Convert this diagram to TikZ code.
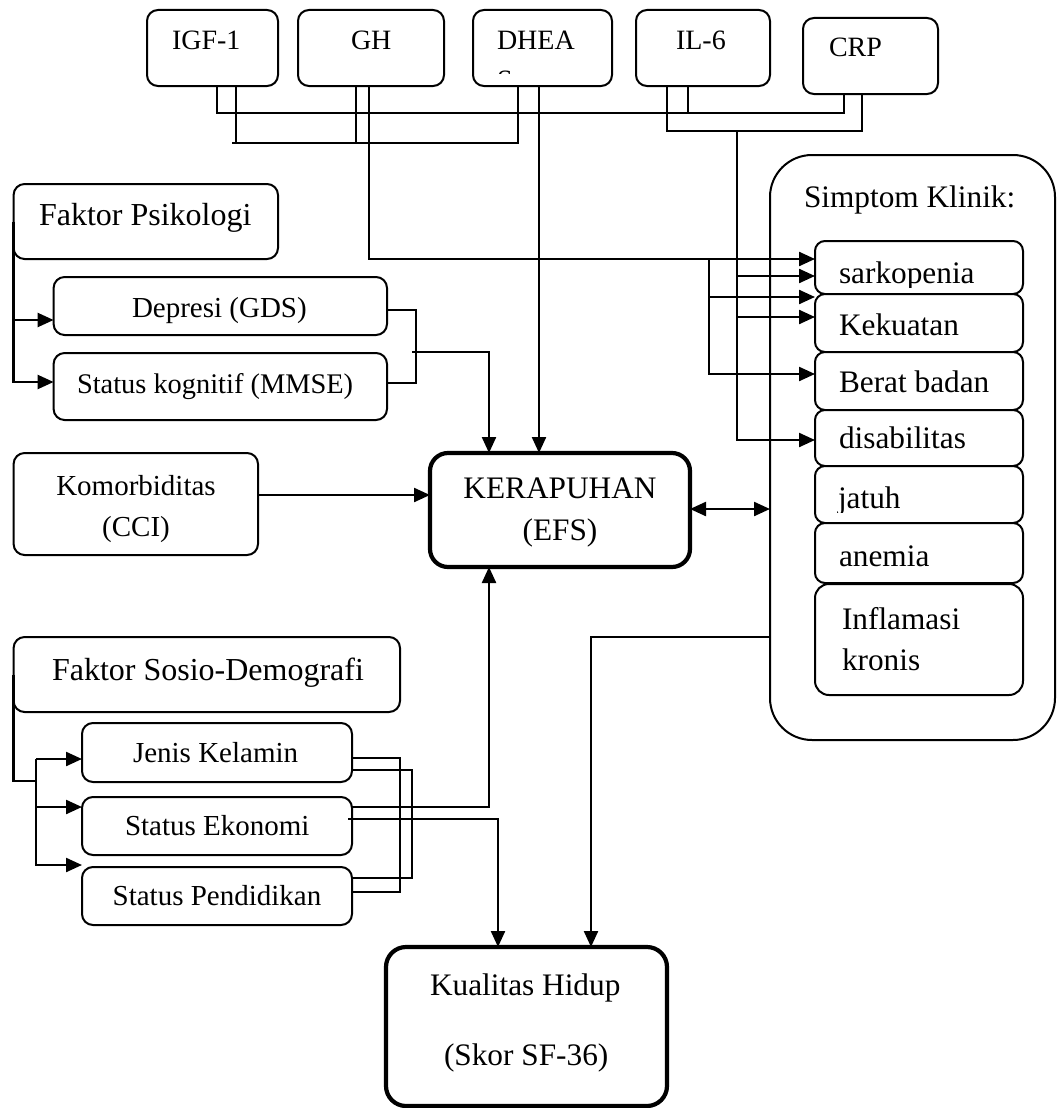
\documentclass[tikz,border=0pt]{standalone}
\usepackage{fontspec}
\setmainfont{Liberation Serif}
\usetikzlibrary{arrows.meta}
\tikzset{
  box/.style={draw, line width=2pt, rounded corners=11pt, fill=white, inner sep=0pt, outer sep=0pt, anchor=north west},
  mainbox/.style={box, line width=4.2pt, rounded corners=18pt},
  bigsk/.style={box, line width=2pt, rounded corners=42pt},
  tx/.style={inner sep=0pt, outer sep=0pt, anchor=base west},
  tc/.style={inner sep=0pt, outer sep=0pt, anchor=base},
  fbig/.style={font=\fontsize{31.3pt}{36pt}\selectfont},
  ffak/.style={font=\fontsize{32pt}{36pt}\selectfont},
  fsmall/.style={font=\fontsize{29pt}{34pt}\selectfont},
  ftop/.style={font=\fontsize{28pt}{32pt}\selectfont},
  conn/.style={line width=2.3pt},
  arr/.style={conn, -{Triangle[length=16pt,width=14pt]}},
  darr/.style={conn, {Triangle[length=16pt,width=14pt]}-{Triangle[length=16pt,width=14pt]}}
}
\begin{document}
\begin{tikzpicture}[x=1pt,y=-1pt]
\fill[white] (0,0) rectangle (1057,1108);
\useasboundingbox (0,0) rectangle (1057,1108);

% top boxes
\node[box, minimum width=131pt, minimum height=76pt] (igf) at (147,10) {};
\node[box, minimum width=146pt, minimum height=76pt] (gh) at (298,10) {};
\node[box, minimum width=139pt, minimum height=76pt] (dhea) at (473,10) {};
\node[box, minimum width=134pt, minimum height=76pt] (il6) at (636,10) {};
\node[box, minimum width=135pt, minimum height=76pt] (crp) at (803,18) {};
\node[tx, ftop] (tigf) at (172,50) {IGF-1};
\node[tx, ftop] (tgh) at (351,50) {GH};
\node[tx, ftop] (tdhea) at (497,50) {DHEA};
\begin{scope}
\clip (480,60) rectangle (600,74);
\node[tx, ftop] (tdheas) at (497,89) {S};
\end{scope}
\node[tx, ftop] (til6) at (676,50) {IL-6};
\node[tx, ftop] (tcrp) at (829,57) {CRP};

% left boxes
\node[box, minimum width=264.4pt, minimum height=75pt] (fp) at (13.6,184) {};
\node[tx, ffak] (tfp) at (39,225) {Faktor Psikologi};
\node[box, minimum width=333.4pt, minimum height=58pt] (dep) at (53.6,277) {};
\node[tx, fsmall] (tdep) at (132,317) {Depresi (GDS)};
\node[box, minimum width=333.4pt, minimum height=67pt] (kog) at (53.6,353) {};
\node[tx, font=\fontsize{28.4pt}{34pt}\selectfont] (tkog) at (77,393) {Status kognitif (MMSE)};
\node[box, minimum width=244.4pt, minimum height=102pt] (kom) at (13.6,453) {};
\node[tc, fsmall] (tkom1) at (136,495) {Komorbiditas};
\node[tc, fsmall] (tkom2) at (136,536) {(CCI)};

\node[mainbox, minimum width=260pt, minimum height=114pt] (ker) at (430,453) {};
\node[tc, fbig] (tker1) at (560,498) {KERAPUHAN};
\node[tc, fbig] (tker2) at (560,540) {(EFS)};

\node[box, minimum width=386.4pt, minimum height=75pt] (fsd) at (13.6,637) {};
\node[tx, ffak] (tfsd) at (52,680) {Faktor Sosio-Demografi};
\node[box, minimum width=270pt, minimum height=59pt] (jk) at (82,723) {};
\node[tx, fsmall] (tjk) at (133,762) {Jenis Kelamin};
\node[box, minimum width=270pt, minimum height=58pt] (se) at (82,797) {};
\node[tx, fsmall] (tse) at (125,835) {Status Ekonomi};
\node[box, minimum width=270pt, minimum height=58pt] (sp) at (82,867) {};
\node[tc, fsmall] (tsp) at (217,905) {Status Pendidikan};

\node[mainbox, rounded corners=20pt, minimum width=281pt, minimum height=159pt] (kh) at (386,947) {};
\node[tx, fbig] (tkh1) at (430,995) {Kualitas Hidup};
\node[tx, fbig] (tkh2) at (444,1065) {(Skor SF-36)};

% simptom klinik
\node[bigsk, minimum width=285pt, minimum height=585pt] (sk) at (770,155) {};
\node[tx, fbig] (tsk) at (804,207) {Simptom Klinik:};
\node[box, rounded corners=10pt, minimum width=208pt, minimum height=53pt] (sarko) at (815,241) {};
\begin{scope}
\clip (816,242) rectangle (1022,287);
\node[tx, fbig] (tsarko) at (839,283) {sarkopenia};
\end{scope}
\node[box, rounded corners=10pt, minimum width=208pt, minimum height=58pt] (keku) at (815,294) {};
\node[tx, fbig] (tkeku) at (839,335) {Kekuatan};
\node[box, rounded corners=10pt, minimum width=208pt, minimum height=58pt] (berat) at (815,352) {};
\node[tx, fbig] (tberat) at (839,392) {Berat badan};
\node[box, rounded corners=10pt, minimum width=208pt, minimum height=56pt] (disab) at (815,410) {};
\node[tx, fbig] (tdisab) at (839,448) {disabilitas};
\node[box, rounded corners=10pt, minimum width=208pt, minimum height=57pt] (jatuh) at (815,466) {};
\begin{scope}
\clip (816,467) rectangle (1022,512);
\node[tx, fbig] (tjatuh) at (838,508) {jatuh};
\end{scope}
\node[box, rounded corners=10pt, minimum width=208pt, minimum height=60pt] (anemia) at (815,523) {};
\node[tx, fbig] (tanemia) at (839,566) {anemia};
\node[box, rounded corners=14pt, minimum width=208pt, minimum height=111pt] (infl) at (815,584) {};
\node[tx, fbig] (tinfl1) at (842,629) {Inflamasi};
\node[tx, fbig] (tinfl2) at (842,670) {kronis};

% connectors: top hormones
\draw[conn] (217,0 |- igf.south) -- (217,113) -- (844,113) -- (844,0 |- crp.south);
\draw[conn] (688,0 |- il6.south) -- (688,113);
\draw[conn] (236,0 |- igf.south) -- (236,143);
\draw[conn] (232,143) -- (518,143) -- (518,0 |- dhea.south);
\draw[conn] (356,0 |- gh.south) -- (356,143);
\draw[arr] (369,0 |- gh.south) -- (369,259) -- (sarko.west |- 0,259);
\draw[arr] (539,0 |- dhea.south) -- (539,0 |- ker.north);
\draw[conn] (667,0 |- il6.south) -- (667,131) -- (862,131) -- (862,0 |- crp.south);
\coordinate (jil) at (737,131);
\draw[arr] (jil) -- (737,440) -- (disab.west |- 0,440);
\draw[arr] (737,276) -- (sarko.west |- 0,276);
\draw[arr] (737,317) -- (keku.west |- 0,317);
\coordinate (jgh) at (709,259);
\draw[arr] (jgh) -- (709,374) -- (berat.west |- 0,374);
\draw[arr] (709,297) -- (keku.west |- 0,297);

% psikologi
\draw[arr] (fp.west) -- (13.6,382) -- (kog.west |- 0,382);
\draw[arr] (13.6,320) -- (dep.west |- 0,320);
\draw[conn] (dep.east |- 0,310) -- (416,310) -- (416,383) -- (kog.east |- 0,383);
\draw[arr] (412,352) -- (489,352) -- (489,0 |- ker.north);

% komorbiditas
\draw[arr] (kom.east |- 0,495) -- (ker.west |- 0,495);
% ker <-> simptom
\draw[darr] (ker.east |- 0,509) -- (sk.west |- 0,509);

% sosio-demografi
\draw[conn] (fsd.west) -- (13.6,781) -- (36,781);
\draw[arr] (36,759) -- (jk.west |- 0,759);
\draw[arr] (36,807) -- (se.west |- 0,807);
\draw[arr] (36,759) -- (36,865) -- (sp.west |- 0,865);
\draw[conn] (jk.east |- 0,758) -- (400,758) -- (400,892) -- (sp.east |- 0,892);
\draw[conn] (jk.east |- 0,770) -- (412,770) -- (412,878) -- (sp.east |- 0,878);
\draw[arr] (se.east |- 0,807) -- (489,807) -- (489,0 |- ker.south);
\draw[arr] (348,819) -- (498,819) -- (498,0 |- kh.north);
\draw[arr] (sk.west |- 0,637) -- (591,637) -- (591,0 |- kh.north);
\end{tikzpicture}
\end{document}
